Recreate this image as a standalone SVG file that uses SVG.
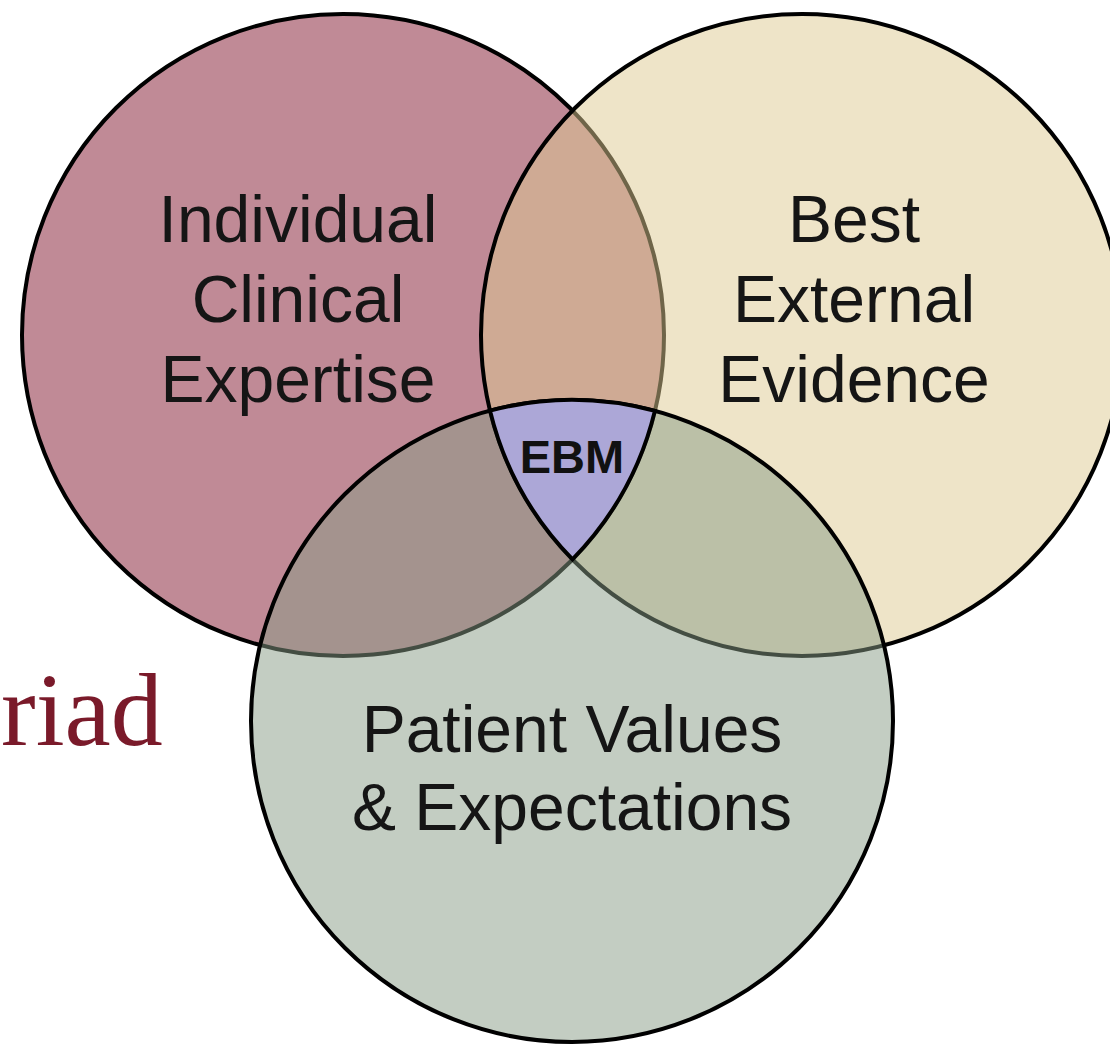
<svg xmlns="http://www.w3.org/2000/svg" width="1110" height="1046" viewBox="0 0 1110 1046">
<style>
.ring{stroke:#000;stroke-width:4}
.lbl{font-family:"Liberation Sans",Arial,sans-serif;font-size:66px;fill:#151515;text-anchor:middle}
.ebm{font-family:"Liberation Sans",Arial,sans-serif;font-size:47px;font-weight:bold;fill:#111;text-anchor:middle}
</style>
<rect width="1110" height="1046" fill="#fff"/>
<text x="1" y="745" font-family="'Liberation Serif','Times New Roman',serif" font-size="104" fill="#7a1a2a">riad</text>
<g id="clinical-expertise">
<circle class="ring" cx="343" cy="335" r="321" fill="#81152d" fill-opacity="0.5"/>
</g>
<g id="external-evidence">
<circle class="ring" cx="802" cy="335" r="321" fill="#ddc991" fill-opacity="0.5"/>
</g>
<g id="patient-values">
<circle class="ring" cx="572" cy="721" r="321" fill="#879b85" fill-opacity="0.5"/>
</g>
<g id="ebm">
<path class="ring" fill="#aca7d7" d="M490 410.6 A321 321 0 0 1 654.9 410.9 A321 321 0 0 1 572.5 559.4 A321 321 0 0 1 490 410.6 Z"/>
<text class="ebm" x="572" y="473">EBM</text>
</g>
<g id="labels">
<text class="lbl" x="298" y="242">Individual</text>
<text class="lbl" x="298" y="322">Clinical</text>
<text class="lbl" x="298" y="402">Expertise</text>
<text class="lbl" x="854" y="242">Best</text>
<text class="lbl" x="854" y="322">External</text>
<text class="lbl" x="854" y="402">Evidence</text>
<text class="lbl" x="572" y="752">Patient Values</text>
<text class="lbl" x="572" y="830">&amp; Expectations</text>
</g>
<g id="connectors"/>
</svg>
